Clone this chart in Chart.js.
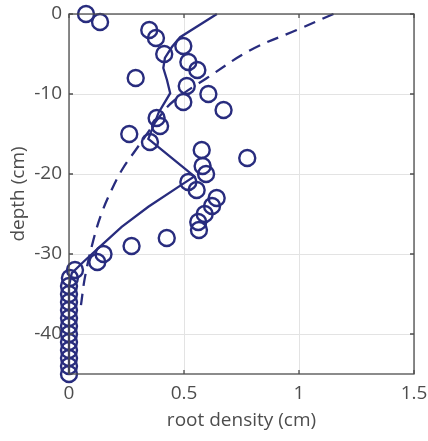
<!DOCTYPE html>
<html>
<head>
<meta charset="utf-8">
<script src="https://cdn.jsdelivr.net/npm/chart.js@4/dist/chart.umd.min.js"></script>
<style>
  html, body { margin: 0; padding: 0; background: #fff; }
  #wrap { width: 428px; height: 441px; }
</style>
</head>
<body>
<div id="wrap"><canvas id="rootChart"></canvas></div>
<script>
// observed root density per depth
const obsDepth = [0, -1, -2, -3, -4, -5, -6, -7, -8, -9, -10, -11, -12, -13, -14, -15,
  -16, -17, -18, -19, -20, -21, -22, -23, -24, -25, -26, -27, -28, -29, -30, -31, -32,
  -33, -34, -35, -36, -37, -38, -39, -40, -41, -42, -43, -44, -45]
const obsDensity = [0.074, 0.135, 0.349, 0.378, 0.497, 0.414, 0.519, 0.558, 0.29, 0.512,
  0.606, 0.497, 0.672, 0.381, 0.396, 0.262, 0.352, 0.577, 0.775, 0.581, 0.596, 0.519,
  0.555, 0.642, 0.622, 0.59, 0.562, 0.565, 0.425, 0.272, 0.15, 0.123, 0.026, 0.004,
  0, 0, 0, 0, 0, 0, 0, 0, 0, 0, 0, 0]

// solid model curve
const solidDepth = [0, -2.9, -4.1, -5.5, -6.75, -8.25, -9.9, -12.3, -15.6, -20.3, -21.2,
  -24.1, -26.6, -28.9, -31, -32.4, -34, -45]
const solidDensity = [0.643, 0.483, 0.448, 0.417, 0.41, 0.426, 0.44, 0.39, 0.345, 0.545,
  0.497, 0.345, 0.229, 0.142, 0.062, 0.012, 0, 0]

// dashed model curve
const dashDepth = [0, -2, -4.5, -8, -10.75, -12.6, -17, -19.5, -22, -24.9, -28.25, -32.8, -36.4]
const dashDensity = [1.15, 0.99, 0.79, 0.6, 0.46, 0.4, 0.29, 0.23, 0.185, 0.142, 0.106, 0.07, 0.052]

const xTicks = [0, 0.5, 1, 1.5]
const yTicks = [-40, -30, -20, -10, 0]

const navy = '#282c7e'
const axisColor = '#4d4d4d'
const font = 'Open Sans'

const toPts = (xs, ys) => xs.map((x, i) => ({ x: x, y: ys[i] }))

// box around the plot with small inward ticks
const boxPlugin = {
  id: 'box',
  afterDatasetsDraw(chart) {
    const { ctx, chartArea: a, scales } = chart
    ctx.save()
    ctx.strokeStyle = axisColor
    ctx.lineWidth = 1.3
    ctx.strokeRect(a.left, a.top, a.right - a.left, a.bottom - a.top)
    ctx.beginPath()
    for (const v of xTicks) {
      const px = scales.x.getPixelForValue(v)
      ctx.moveTo(px, a.bottom); ctx.lineTo(px, a.bottom - 4)
      ctx.moveTo(px, a.top); ctx.lineTo(px, a.top + 4)
    }
    for (const v of yTicks) {
      const py = scales.y.getPixelForValue(v)
      ctx.moveTo(a.left, py); ctx.lineTo(a.left + 4, py)
      ctx.moveTo(a.right, py); ctx.lineTo(a.right - 4, py)
    }
    ctx.stroke()
    ctx.restore()
  }
}

new Chart(document.getElementById('rootChart'), {
  type: 'scatter',
  data: {
    datasets: [
      {
        label: 'dashed',
        data: toPts(dashDensity, dashDepth),
        showLine: true,
        borderColor: navy,
        borderWidth: 2.3,
        borderDash: [12, 8],
        pointRadius: 0,
        tension: 0.4,
        clip: false
      },
      {
        label: 'solid',
        data: toPts(solidDensity, solidDepth),
        showLine: true,
        borderColor: navy,
        borderWidth: 2.3,
        pointRadius: 0,
        tension: 0,
        clip: false
      },
      {
        label: 'observed',
        data: toPts(obsDensity, obsDepth),
        pointRadius: 8,
        pointBorderWidth: 2.4,
        pointBorderColor: navy,
        pointBackgroundColor: 'rgba(0,0,0,0)',
        clip: false
      }
    ]
  },
  options: {
    responsive: true,
    maintainAspectRatio: false,
    animation: false,
    layout: { padding: { top: 14, right: 14, left: 0, bottom: 0 } },
    plugins: { legend: { display: false }, tooltip: { enabled: false } },
    scales: {
      x: {
        type: 'linear',
        min: 0,
        max: 1.5,
        afterBuildTicks: s => { s.ticks = xTicks.map(v => ({ value: v })) },
        afterFit: s => { s.height = 67; s.paddingLeft = 0; s.paddingRight = 0 },
        grid: { color: '#e3e3e3', lineWidth: 1, drawTicks: false },
        border: { display: false },
        ticks: {
          color: axisColor,
          padding: 8,
          font: { family: font, size: 19 },
          callback: v => String(v)
        },
        title: {
          display: true,
          text: 'root density (cm)',
          color: axisColor,
          padding: { top: 0, bottom: 9 },
          font: { family: font, size: 19 }
        }
      },
      y: {
        type: 'linear',
        min: -45,
        max: 0,
        afterBuildTicks: s => { s.ticks = yTicks.map(v => ({ value: v })) },
        afterFit: s => { s.width = 69; s.paddingTop = 0; s.paddingBottom = 0 },
        grid: { color: '#e3e3e3', lineWidth: 1, drawTicks: false },
        border: { display: false },
        ticks: {
          color: axisColor,
          padding: 7,
          font: { family: font, size: 19 },
          callback: v => String(v)
        },
        title: {
          display: true,
          text: 'depth (cm)',
          color: axisColor,
          padding: { top: 7, bottom: 0 },
          font: { family: font, size: 19 }
        }
      }
    }
  },
  plugins: [boxPlugin]
})
</script>
</body>
</html>
